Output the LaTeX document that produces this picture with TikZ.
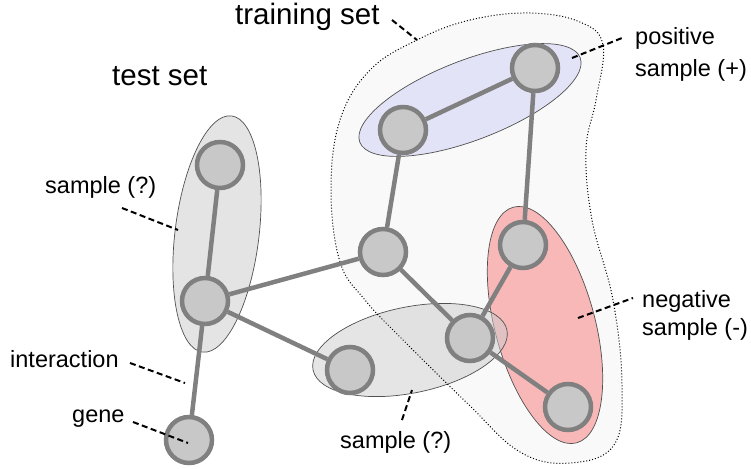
\documentclass[tikz,border=0pt]{standalone}
\usepackage{fontspec}
\setmainfont{Liberation Sans}
\definecolor{edgegray}{HTML}{808080}
\definecolor{nodefill}{HTML}{C8C8C8}
\definecolor{blobfill}{HTML}{F9F9F9}
\definecolor{posfill}{HTML}{E3E3F7}
\definecolor{negfill}{HTML}{F8B8B8}
\definecolor{setgray}{HTML}{CBCBCB}
\definecolor{testgray}{HTML}{E4E4E4}
\definecolor{rimgray}{HTML}{505050}
\begin{document}
\begin{tikzpicture}[x=1pt,y=-1pt,
  gene/.style={circle,draw=edgegray,fill=nodefill,line width=4.5pt,minimum size=46pt,inner sep=0pt},
  link/.style={draw=edgegray,line width=4.5pt},
  rim/.style={draw=rimgray,line width=0.7pt},
  leader/.style={draw=black,line width=2pt,dash pattern=on 6pt off 3.5pt},
  bigtxt/.style={anchor=base west,inner sep=0pt,font=\fontsize{29.5}{34}\selectfont},
  lbl/.style={anchor=base west,inner sep=0pt,font=\fontsize{23.5}{28.5}\selectfont}]
\useasboundingbox (0,0) rectangle (751,468);
% training set blob (fill)
\path[fill=blobfill] plot[smooth cycle,tension=0.65] coordinates {
  (417,40) (470,20) (530,13) (580,22) (603,45) (596,100) (586,150) (592,220)
  (613,300) (622,385) (614,445) (570,463) (520,452) (467,403) (400,337)
  (365,300) (340,262) (331,190) (340,120) (370,70)};
% sample ellipses
\path[rim,fill=posfill] [rotate around={21:(470,100)}] (470,100) ellipse (118 and 40);
\path[rim,fill=testgray] [rotate around={-7:(217,234)}] (217,234) ellipse (42 and 119);
\path[rim,fill=negfill] [rotate around={15:(545,325)}] (545,325) ellipse (50 and 122);
\path[rim,fill=setgray,fill opacity=0.5] [rotate around={11.6:(410,350)}] (410,350) ellipse (99 and 43);
% training set outline
\draw[black,line width=1pt,dash pattern=on 1pt off 2pt] plot[smooth cycle,tension=0.65] coordinates {
  (417,40) (470,20) (530,13) (580,22) (603,45) (596,100) (586,150) (592,220)
  (613,300) (622,385) (614,445) (570,463) (520,452) (467,403) (400,337)
  (365,300) (340,262) (331,190) (340,120) (370,70)};
% genes
\node[gene] (A) at (220,165) {};
\node[gene] (B) at (205,301) {};
\node[gene] (G) at (189,440) {};
\node[gene] (C) at (383,252) {};
\node[gene] (D) at (470,338) {};
\node[gene] (E) at (350,370) {};
\node[gene] (F) at (523,245) {};
\node[gene] (H) at (568,407) {};
\node[gene] (P) at (403,130) {};
\node[gene] (Q) at (535,68) {};
% interactions
\path[link] (A) -- (B);
\path[link] (B) -- (G);
\path[link] (B) -- (C);
\path[link] (B) -- (E);
\path[link] (C) -- (P);
\path[link] (P) -- (Q);
\path[link] (Q) -- (F);
\path[link] (C) -- (D);
\path[link] (D) -- (F);
\path[link] (D) -- (H);
% labels
\node[bigtxt] (ttrain) at (235,25) {training set};
\node[bigtxt] (ttest) at (112,85) {test set};
\node[lbl] (tpos1) at (635,45) {positive};
\node[lbl] (tpos2) at (635,77) {sample (+)};
\node[lbl] (tneg1) at (642,307) {negative};
\node[lbl] (tneg2) at (642,335) {sample (-)};
\node[lbl] (tsl) at (45,193) {sample (?)};
\node[lbl] (tint) at (10,367) {interaction};
\node[lbl] (tgene) at (72,422) {gene};
\node[lbl] (tsb) at (340,448) {sample (?)};
% leader end points
\coordinate (l1a) at (392,20);  \coordinate (l1b) at (417,40);
\coordinate (l2a) at (572,58);  \coordinate (l2b) at (622,38);
\coordinate (l3a) at (578,318); \coordinate (l3b) at (633,298);
\coordinate (l4a) at (122,208); \coordinate (l4b) at (178,230);
\coordinate (l5a) at (130,363); \coordinate (l5b) at (185,383);
\coordinate (l6a) at (133,422); \coordinate (l6b) at (188,443);
\coordinate (l7a) at (402,420); \coordinate (l7b) at (412,390);
\path[leader] (l1a) -- (l1b);
\path[leader] (l2a) -- (l2b);
\path[leader] (l3a) -- (l3b);
\path[leader] (l4a) -- (l4b);
\path[leader] (l5a) -- (l5b);
\path[leader] (l6a) -- (l6b);
\path[leader] (l7a) -- (l7b);
\end{tikzpicture}
\end{document}
